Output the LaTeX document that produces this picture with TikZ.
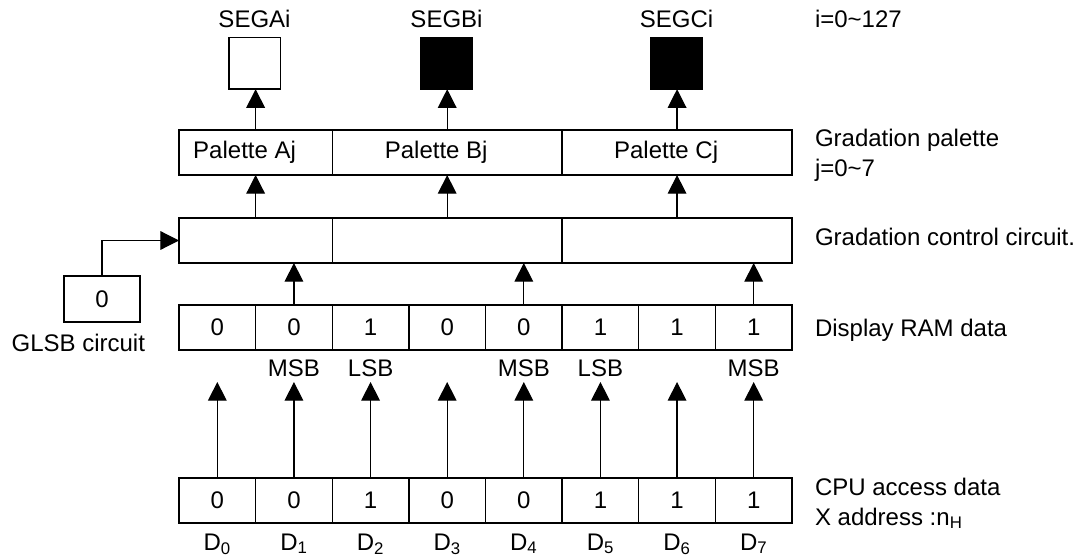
\documentclass[tikz,border=0pt]{standalone}
\usepackage{fontspec}
\setmainfont{Liberation Sans}
\usetikzlibrary{arrows.meta}
\begin{document}
\begin{tikzpicture}[x=0.75pt,y=-0.75pt,
  every node/.style={font=\fontsize{18}{22}\selectfont, inner sep=0pt, outer sep=0pt},
  cell/.style={draw, line width=1pt, minimum width=57.47pt, minimum height=33.75pt},
  wide/.style={cell, minimum width=172.4pt},
  half/.style={cell, minimum width=114.94pt},
  segbox/.style={draw, line width=1pt, minimum width=38.5pt, minimum height=38.5pt},
  arr/.style={line width=0.9pt, -{Triangle[width=14pt,length=14pt]}},
  lbl/.style={anchor=base west},
  clbl/.style={anchor=base}
]
\useasboundingbox (0,0) rectangle (1087,556);

% SEG outputs
\node[segbox] (sA) at (254.5,63.5) {};
\node[segbox, fill=black] (sB) at (446.5,63.5) {};
\node[segbox, fill=black] (sC) at (676.5,63.5) {};
\node[clbl] (sAl) at (254.5,27.6) {SEGAi};
\node[clbl] (sBl) at (446.5,27.6) {SEGBi};
\node[clbl] (sCl) at (676.5,27.6) {SEGCi};

% Gradation palette
\node[half] (pA) at (255.625,152.5) {};
\node[wide] (pB) at (447.19,152.5) {};
\node[wide] (pC) at (677.06,152.5) {};
\node (pAt) at (244.6,152.5) {Palette Aj};
\node (pBt) at (436.2,152.5) {Palette Bj};
\node (pCt) at (666.1,152.5) {Palette Cj};

% Gradation control circuit
\node[half] (gA) at (255.625,240.5) {};
\node[wide] (gB) at (447.19,240.5) {};
\node[wide] (gC) at (677.06,240.5) {};

% arrows between rows
\draw[arr] (pA.north) -- (pA.north |- sA.south);
\draw[arr] (pB.north) -- (pB.north |- sB.south);
\draw[arr] (pC.north) -- (pC.north |- sC.south);
\draw[arr] (gA.north) -- (pA.south);
\draw[arr] (gB.north) -- (pB.south);
\draw[arr] (gC.north) -- (pC.south);

% Display RAM and CPU rows
\foreach \i/\v in {0/0,1/0,2/1,3/0,4/0,5/1,6/1,7/1} {
  \pgfmathsetmacro\cx{179+76.625*\i+38.3125}
  \node[cell] (r\i) at (\cx,327.5) {\v};
  \node[cell] (c\i) at (\cx,500.5) {\v};
  \node[clbl] (d\i) at (\cx,550.3) {D\textsubscript{\i}};
  \coordinate (t\i) at (\cx,382);
  \draw[arr] (c\i.north) -- (t\i);
}
\draw[arr] (r1.north) -- (r1.north |- gA.south);
\draw[arr] (r4.north) -- (r4.north |- gB.south);
\draw[arr] (r7.north) -- (r7.north |- gC.south);

% MSB / LSB
\node[clbl] (m1) at (293.9,376.6) {MSB};
\node[clbl] (l2) at (370.6,376.6) {LSB};
\node[clbl] (m4) at (523.8,376.6) {MSB};
\node[clbl] (l5) at (600.4,376.6) {LSB};
\node[clbl] (m7) at (753.7,376.6) {MSB};

% GLSB circuit
\node[draw, line width=1pt, minimum width=57pt, minimum height=34.5pt] (glsb) at (102,299) {0};
\node[clbl] (glsbl) at (78.3,351.6) {GLSB circuit};
\draw[arr] (glsb.north) |- (gA.west);

% right-hand labels
\node[lbl] (li) at (815,27.6) {i=0\textasciitilde 127};
\node[lbl] (lgp) at (815,146.3) {Gradation palette};
\node[lbl] (lj) at (815,176.3) {j=0\textasciitilde 7};
\node[lbl] (lgc) at (815,245.3) {Gradation control circuit.};
\node[lbl] (lram) at (815,336.6) {Display RAM data};
\node[lbl] (lcpu) at (815,495.3) {CPU access data};
\node[lbl] (lx) at (815,525) {X address :n\textsubscript{H}};
\end{tikzpicture}
\end{document}
